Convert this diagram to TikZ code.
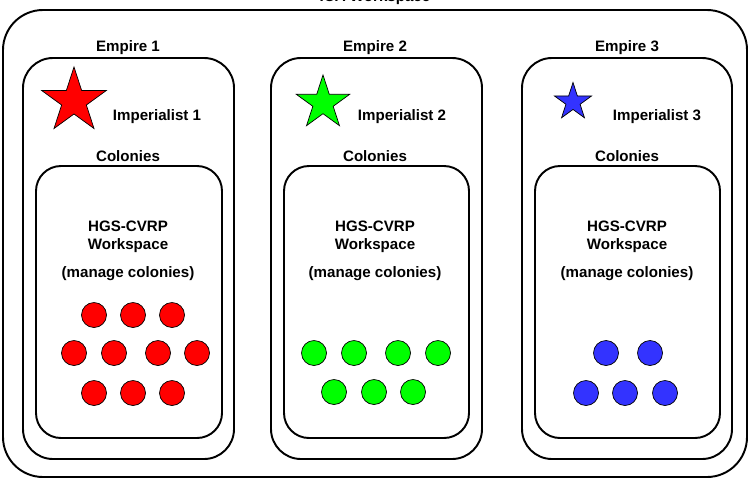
\documentclass[tikz,border=0pt]{standalone}
\usepackage{fontspec}
\setmainfont{Liberation Sans}
\usetikzlibrary{shapes.geometric}
\definecolor{impred}{RGB}{255,0,0}
\definecolor{impgreen}{RGB}{0,255,0}
\definecolor{impblue}{RGB}{51,51,255}
\tikzset{
	lbl/.style={font=\bfseries\fontsize{8.6}{10.3}\selectfont, align=center, inner sep=0pt},
	imp/.style={star, star points=5, star point ratio=2.618, draw=black, thin, inner sep=0pt},
	colony/.style={circle, draw=black, thin, inner sep=0pt, minimum size=0.5cm},
	wsbox/.style={draw=black, line width=1.1pt},
}

\begin{document}
\begin{tikzpicture}[x=0.02cm, y=-0.02cm]
	\useasboundingbox (0,0) rectangle (749,480);
	% ICA workspace
	\draw [wsbox, rounded corners=0.8cm] (3,10) rectangle (747,477);
	\node[lbl] (ica) at (375,-2) {ICA Workspace};
	% empires
	\draw [wsbox, rounded corners=0.6cm] (23,58) rectangle (234,459);
	\draw [wsbox, rounded corners=0.6cm] (271,58) rectangle (482,459);
	\draw [wsbox, rounded corners=0.6cm] (522,58) rectangle (732,459);
	\node[lbl] (E1) at (128,48) {Empire 1};
	\node[lbl] (E2) at (375,48) {Empire 2};
	\node[lbl] (E3) at (627,48) {Empire 3};
	% imperialists
	\node[imp, fill=impred, minimum size=1.36cm] (S1) at (74,101) {};
	\node[imp, fill=impgreen, minimum size=1.12cm] (S2) at (323,103) {};
	\node[imp, fill=impblue, minimum size=0.78cm] (S3) at (573,102) {};
	\node[lbl] (I1) at (157,117) {Imperialist 1};
	\node[lbl] (I2) at (402,117) {Imperialist 2};
	\node[lbl] (I3) at (657,117) {Imperialist 3};
	% colonies
	\draw [wsbox, rounded corners=0.5cm] (36,166) rectangle (222,438);
	\draw [wsbox, rounded corners=0.5cm] (284,166) rectangle (469,438);
	\draw [wsbox, rounded corners=0.5cm] (535,166) rectangle (720,438);
	\node[lbl] (C1) at (128,156) {Colonies};
	\node[lbl] (C2) at (375,156) {Colonies};
	\node[lbl] (C3) at (627,156) {Colonies};
	\node[lbl] (H1) at (128,237) {HGS-CVRP\\Workspace};
	\node[lbl] (H2) at (375,237) {HGS-CVRP\\Workspace};
	\node[lbl] (H3) at (627,237) {HGS-CVRP\\Workspace};
	\node[lbl] (M1) at (128,274) {(manage colonies)};
	\node[lbl] (M2) at (375,274) {(manage colonies)};
	\node[lbl] (M3) at (627,274) {(manage colonies)};
	% colony dots
	\foreach \x/\y [count=\i] in {94/315,133/315,172/315,74/353,114/353,158/353,197/353,94/393,133/393,172/393}
		\node[colony, fill=impred] (r\i) at (\x,\y) {};
	\foreach \x/\y [count=\i] in {314/353,354/353,398/353,438/353,334/392,374/392,413/392}
		\node[colony, fill=impgreen] (g\i) at (\x,\y) {};
	\foreach \x/\y [count=\i] in {606/353,650/353,586/393,625/393,665/393}
		\node[colony, fill=impblue] (b\i) at (\x,\y) {};
\end{tikzpicture}
\end{document}
